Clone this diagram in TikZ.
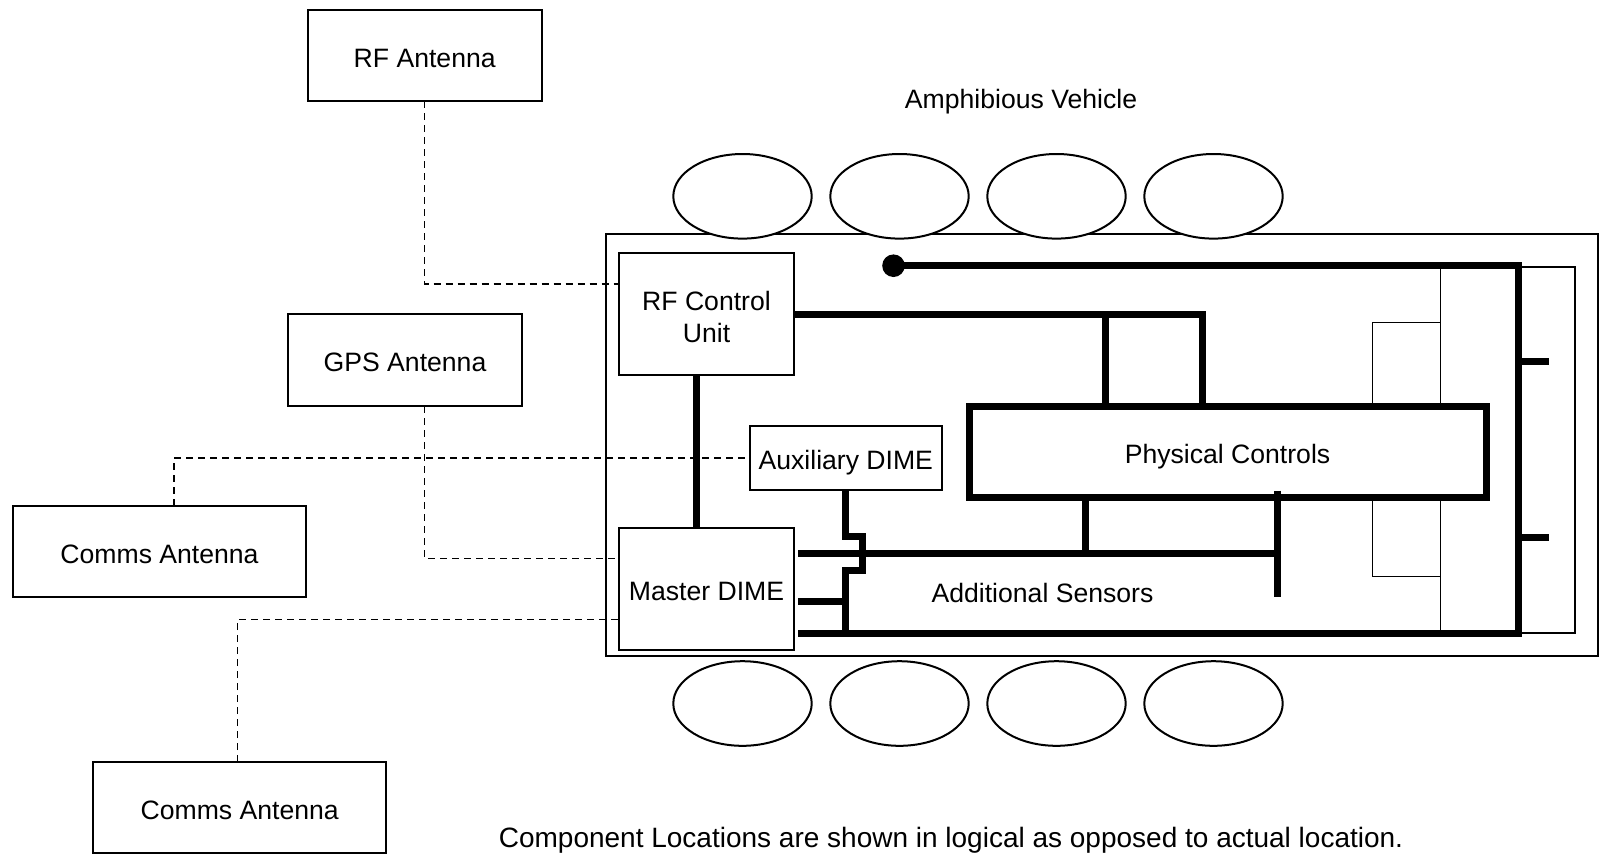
\documentclass[tikz,border=0pt]{standalone}
\usepackage{fontspec}
\setmainfont{Liberation Sans}
\usetikzlibrary{shapes.geometric,calc}
\begin{document}
\begin{tikzpicture}[x=0.5pt,y=-0.5pt,
  font=\fontsize{13.3}{16}\selectfont,
  box/.style={draw,line width=1pt,rectangle,inner sep=0pt,outer sep=0pt,align=center,fill=white,text height=11.7pt,text depth=0pt},
  plainbox/.style={draw,line width=1pt,rectangle,inner sep=0pt,outer sep=0pt,fill=white},
  wheel/.style={draw,line width=1pt,ellipse,fill=white,minimum width=69.2pt,minimum height=42.3pt,inner sep=0pt},
  bus/.style={line width=3.5pt},
  thinline/.style={line width=0.75pt},
  link/.style={line width=0.75pt,dash pattern=on 3.5pt off 2.5pt},
  lbl/.style={inner sep=0pt,text height=9.7pt,text depth=0pt}]
\useasboundingbox (0,0) rectangle (1604,857);

% vehicle outline
\node[plainbox,minimum width=496.3pt,minimum height=210.85pt] (veh) at (1102,444.85) {};

% wheels
\foreach \i/\x in {1/742.5,2/899.5,3/1056.5,4/1213.5}{
  \node[wheel] (wt\i) at (\x,196.3) {};
  \node[wheel] (wb\i) at (\x,703.5) {};
}

% external antennas
\node[box,minimum width=117pt,minimum height=45.5pt] (rfant) at (424.7,55.5) {RF Antenna};
\node[box,minimum width=116.7pt,minimum height=45.85pt] (gps) at (405,360.2) {GPS Antenna};
\node[box,minimum width=146.2pt,minimum height=45.35pt] (comms1) at (159.5,551.3) {Comms Antenna};
\node[box,minimum width=146.35pt,minimum height=45.5pt] (comms2) at (239.7,807.5) {Comms Antenna};

% internal units
\node[plainbox,minimum width=87.5pt,minimum height=61pt] (rfcu) at (706.5,314) {};
\node[inner sep=0pt,align=center] (rfcutext) at (706.5,317) {RF Control\\Unit};
\node[box,minimum width=87.5pt,minimum height=61pt] (master) at (706.5,589) {Master DIME};
\node[box,minimum width=96.15pt,minimum height=32pt] (aux) at (845.8,458) {Auxiliary DIME};

% dashed links
\draw[link] (rfant.south) |- ([yshift=15pt]rfcu.west);
\draw[link] (gps.south -| rfant.south) |- ([yshift=15.35pt]master.west);
\draw[link] ([xshift=7.25pt]comms1.north) |- (aux.west);
\draw[link] ([xshift=-1pt]comms2.north) |- ([yshift=-15.15pt]master.west);

% right-side thin structures
\draw[thinline] (1440.7,265.7) -- (1440.7,634);
\draw[thinline] (1440.7,322.7) -| (1372.7,406.5);
\draw[thinline] (1440.7,576.7) -| (1372.7,497.3);
\draw[line width=1pt] (1518,266.7) rectangle (1575,632.7);

% physical controls
\node[box,line width=3.5pt,minimum width=258.5pt,minimum height=45.4pt] (pc) at (1227.5,451.9) {Physical Controls};

% buses
\node[circle,fill,minimum size=11.3pt,inner sep=0pt] (dot) at (893.5,265.7) {};
\coordinate (tr) at (1518.3,265.7);
\coordinate (br) at (1518.3,633.7);
\coordinate (m1) at (798,553.3);
\coordinate (m2) at (798,601.7);
\coordinate (m3) at (798,633.7);
\draw[bus] (dot.center) -- (tr) -- (br) -- (m3);
\draw[bus] (1518.3,361.7) -- (1549.3,361.7);
\draw[bus] (1518.3,537.7) -- (1549.3,537.7);
\coordinate (k) at (1202,314);
\draw[bus] (rfcu.east) -- (k) -- (k |- pc.north);
\draw[bus] (1105.3,314) -- (1105.3,406.5);
\draw[bus] ([xshift=-4.9pt]rfcu.south) -- ([xshift=-4.9pt]master.north);
\draw[bus] (m1) -- (1277.7,553.3);
\draw[bus] (m2) -- (846,601.7);
\draw[bus] (1085.7,497.3) -- (1085.7,553.3);
\draw[bus] (1277.7,490.7) -- (1277.7,596.7);
\draw[bus] (aux.south) -- (845.8,536.7) -- (862.7,536.7) -- (862.7,570) -- (845.8,570) -- (845.8,633.7);

% labels
\node[lbl] (title) at (1021,99.2) {Amphibious Vehicle};
\node[lbl] (sens) at (1042.5,592.7) {Additional Sensors};
\node[lbl,font=\fontsize{14}{16.8}\selectfont,text height=10.2pt] (note) at (951,836.8) {Component Locations are shown in logical as opposed to actual location.};
\end{tikzpicture}
\end{document}
